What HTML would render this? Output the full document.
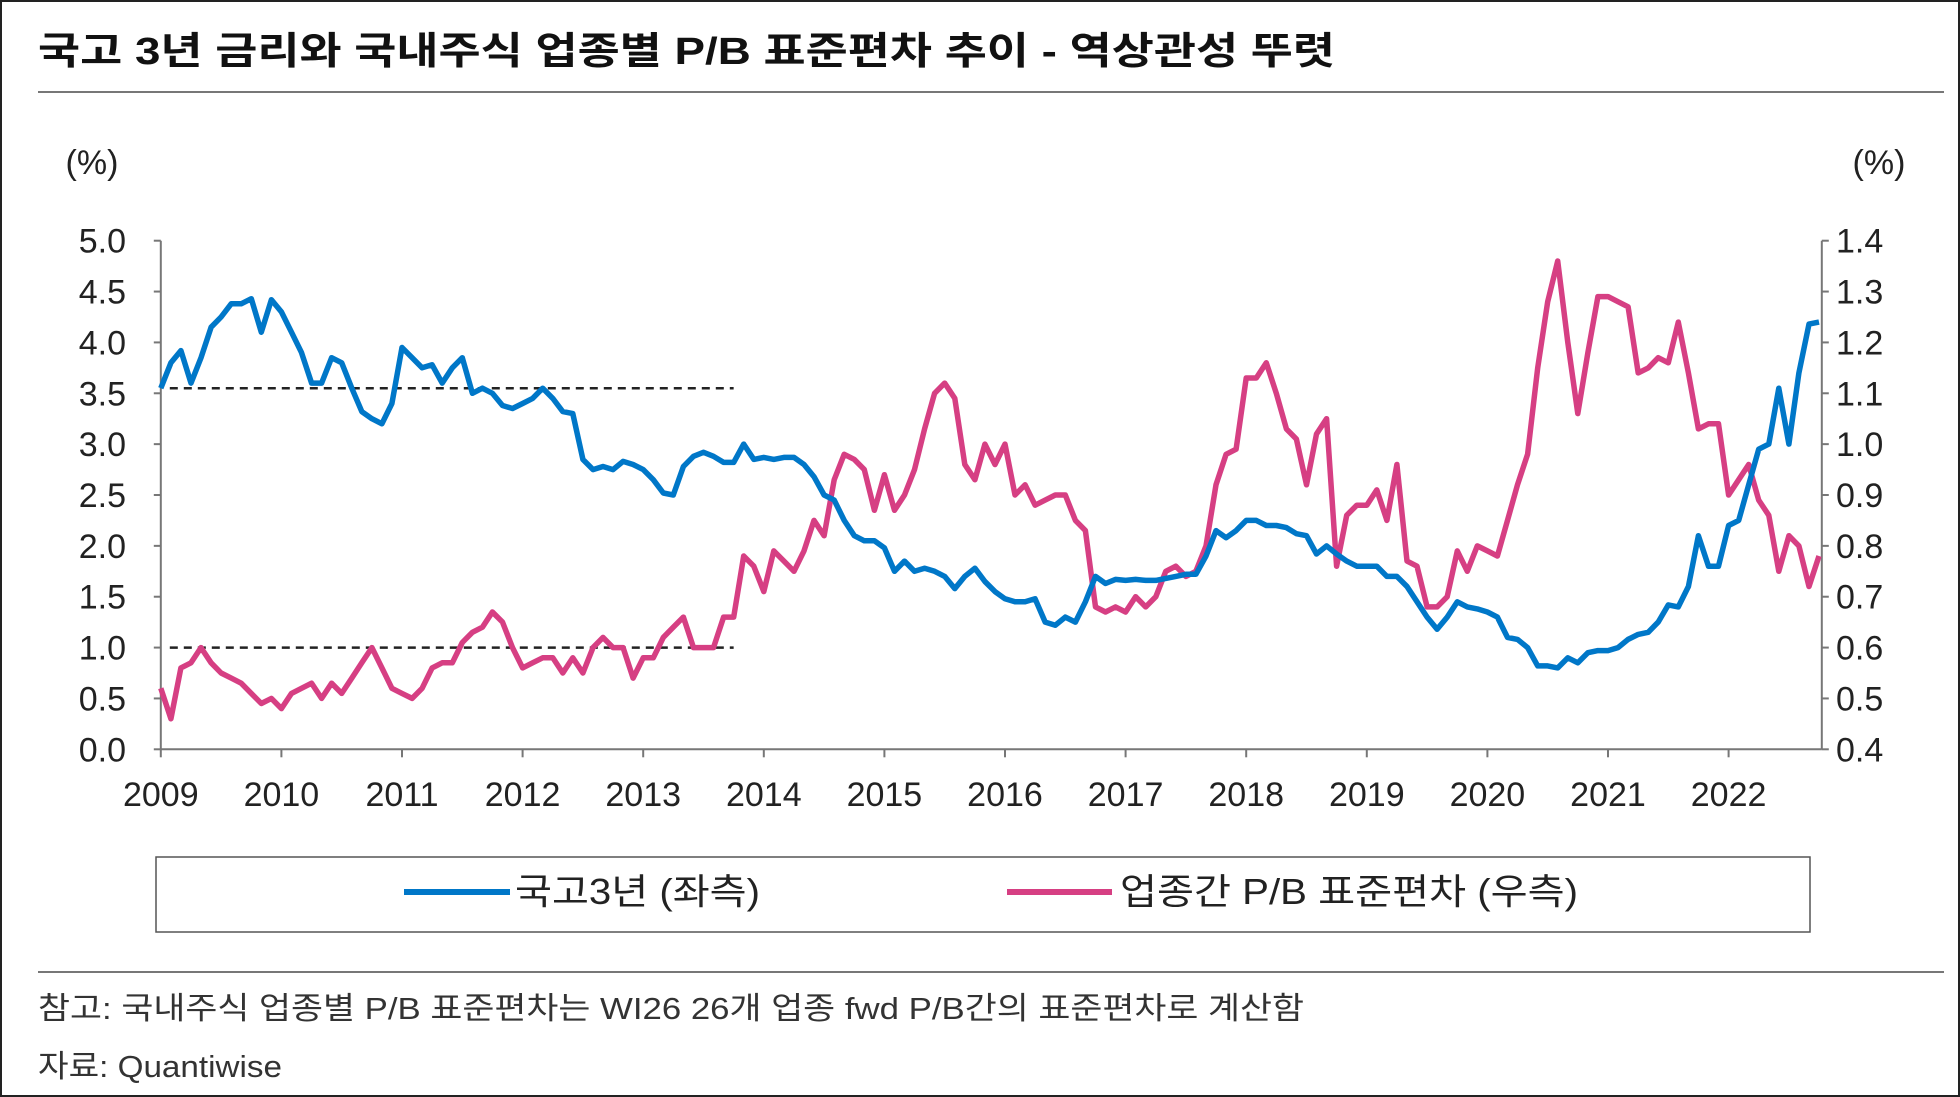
<!DOCTYPE html>
<html><head><meta charset="utf-8"><style>
html,body{margin:0;padding:0;background:#fff}
svg{display:block}
text{font-family:"Liberation Sans","Noto Sans CJK KR",sans-serif}
</style></head><body>
<svg id="c" width="1960" height="1097" viewBox="0 0 1960 1097" xmlns="http://www.w3.org/2000/svg">
<rect x="1" y="1" width="1958" height="1095" fill="#fff" stroke="#222" stroke-width="2"/>
<text x="38" y="64" font-size="38" font-weight="bold" fill="#111" textLength="1297" lengthAdjust="spacingAndGlyphs">국고 3년 금리와 국내주식 업종별 P/B 표준편차 추이 - 역상관성 뚜렷</text>
<line x1="38" y1="92" x2="1944" y2="92" stroke="#777" stroke-width="2"/>
<text x="92" y="174" font-size="34" text-anchor="middle" fill="#222">(%)</text>
<text x="1879" y="174" font-size="34" text-anchor="middle" fill="#222">(%)</text>
<g id="axes"></g>
<g id="marks"></g>
<rect x="156" y="857" width="1654" height="75" fill="#fff" stroke="#555" stroke-width="1.5"/>
<g>
<line x1="404" y1="892" x2="510" y2="892" stroke="#0077c8" stroke-width="6"/>
<text x="515" y="904" font-size="36" fill="#222" textLength="245" lengthAdjust="spacingAndGlyphs">국고3년 (좌측)</text></g>
<g>
<line x1="1007" y1="892" x2="1112" y2="892" stroke="#d63f83" stroke-width="6"/>
<text x="1120" y="904" font-size="36" fill="#222" textLength="458" lengthAdjust="spacingAndGlyphs">업종간 P/B 표준편차 (우측)</text></g>
<line x1="38" y1="972" x2="1944" y2="972" stroke="#777" stroke-width="2"/>
<text x="38" y="1019" font-size="31" fill="#333" textLength="1266" lengthAdjust="spacingAndGlyphs">참고: 국내주식 업종별 P/B 표준편차는 WI26 26개 업종 fwd P/B간의 표준편차로 계산함</text>
<text x="38" y="1077" font-size="31" fill="#333" textLength="244" lengthAdjust="spacingAndGlyphs">자료: Quantiwise</text>
</svg>
<script>
const years=["2009","2010","2011","2012","2013","2014","2015","2016","2017","2018","2019","2020","2021","2022"];
const leftTicks=["0.0","0.5","1.0","1.5","2.0","2.5","3.0","3.5","4.0","4.5","5.0"];
const rightTicks=["0.4","0.5","0.6","0.7","0.8","0.9","1.0","1.1","1.2","1.3","1.4"];
const bond=[3.55,3.8,3.92,3.6,3.85,4.15,4.25,4.38,4.38,4.43,4.1,4.42,
4.3,4.1,3.9,3.6,3.6,3.85,3.8,3.55,3.32,3.25,3.2,3.4,
3.95,3.85,3.75,3.78,3.6,3.75,3.85,3.5,3.55,3.5,3.38,3.35,
3.4,3.45,3.55,3.45,3.32,3.3,2.85,2.75,2.78,2.75,2.83,2.8,
2.75,2.65,2.52,2.5,2.78,2.88,2.92,2.88,2.82,2.82,3.0,2.85,
2.87,2.85,2.87,2.87,2.8,2.68,2.5,2.45,2.25,2.1,2.05,2.05,
1.98,1.75,1.85,1.75,1.78,1.75,1.7,1.58,1.7,1.78,1.65,1.55,
1.48,1.45,1.45,1.48,1.25,1.22,1.3,1.25,1.45,1.7,1.63,1.67,
1.66,1.67,1.66,1.66,1.68,1.7,1.72,1.72,1.9,2.15,2.08,2.15,
2.25,2.25,2.2,2.2,2.18,2.12,2.1,1.92,2.0,1.92,1.85,1.8,
1.8,1.8,1.7,1.7,1.6,1.45,1.3,1.18,1.3,1.45,1.4,1.38,
1.35,1.3,1.1,1.08,1.0,0.82,0.82,0.8,0.9,0.85,0.95,0.97,
0.97,1.0,1.08,1.13,1.15,1.25,1.42,1.4,1.6,2.1,1.8,1.8,
2.2,2.25,2.6,2.95,3.0,3.55,3.0,3.7,4.18,4.2];
const pbStd=[0.52,0.46,0.56,0.57,0.6,0.57,0.55,0.54,0.53,0.51,0.49,0.5,
0.48,0.51,0.52,0.53,0.5,0.53,0.51,0.54,0.57,0.6,0.56,0.52,
0.51,0.5,0.52,0.56,0.57,0.57,0.61,0.63,0.64,0.67,0.65,0.6,
0.56,0.57,0.58,0.58,0.55,0.58,0.55,0.6,0.62,0.6,0.6,0.54,
0.58,0.58,0.62,0.64,0.66,0.6,0.6,0.6,0.66,0.66,0.78,0.76,
0.71,0.79,0.77,0.75,0.79,0.85,0.82,0.93,0.98,0.97,0.95,0.87,
0.94,0.87,0.9,0.95,1.03,1.1,1.12,1.09,0.96,0.93,1.0,0.96,
1.0,0.9,0.92,0.88,0.89,0.9,0.9,0.85,0.83,0.68,0.67,0.68,
0.67,0.7,0.68,0.7,0.75,0.76,0.74,0.75,0.8,0.92,0.98,0.99,
1.13,1.13,1.16,1.1,1.03,1.01,0.92,1.02,1.05,0.76,0.86,0.88,
0.88,0.91,0.85,0.96,0.77,0.76,0.68,0.68,0.7,0.79,0.75,0.8,
0.79,0.78,0.85,0.92,0.98,1.15,1.28,1.36,1.2,1.06,1.18,1.29,
1.29,1.28,1.27,1.14,1.15,1.17,1.16,1.24,1.14,1.03,1.04,1.04,
0.9,0.93,0.96,0.89,0.86,0.75,0.82,0.8,0.72,0.78];
const bondRef=[3.55];
const pbRef=[0.6];
const refRange=[0,57];

const NS="http://www.w3.org/2000/svg";
const X0=160.8,YR=120.6,YT=240.7,YB=749.3,XR=1821.8;
const xm=i=>X0+i*YR/12;
const yl=v=>YB-(v/5)*(YB-YT);
const yr=v=>YB-((v-0.4)/1.0)*(YB-YT);
function mk(tag,attrs,parent){const e=document.createElementNS(NS,tag);for(const k in attrs)e.setAttribute(k,attrs[k]);parent.appendChild(e);return e;}
const axes=document.getElementById('axes'),marks=document.getElementById('marks');
let e=mk('line',{x1:X0,y1:YT,x2:X0,y2:YB,stroke:'#777','stroke-width':2},axes);


e=mk('line',{x1:XR,y1:YT,x2:XR,y2:YB,stroke:'#777','stroke-width':2},axes);


e=mk('line',{x1:X0,y1:YB,x2:XR,y2:YB,stroke:'#777','stroke-width':2},axes);


leftTicks.forEach(t=>{const y=yl(parseFloat(t));
mk('line',{x1:X0-7,y1:y,x2:X0,y2:y,stroke:'#777','stroke-width':2},axes);
const tx=mk('text',{x:126,y:y+12,'font-size':34,'text-anchor':'end',fill:'#222'},axes);tx.textContent=t;

});
rightTicks.forEach(t=>{const y=yr(parseFloat(t));
mk('line',{x1:XR,y1:y,x2:XR+7,y2:y,stroke:'#777','stroke-width':2},axes);
const tx=mk('text',{x:1836,y:y+12,'font-size':34,fill:'#222'},axes);tx.textContent=t;

});
years.forEach((t,i)=>{const x=xm(i*12);
mk('line',{x1:x,y1:YB,x2:x,y2:YB+8,stroke:'#777','stroke-width':2},axes);
const tx=mk('text',{x:x,y:806,'font-size':34,'text-anchor':'middle',fill:'#222'},axes);tx.textContent=t;

});
e=mk('line',{x1:xm(refRange[0])+9,y1:yl(bondRef[0]),x2:xm(refRange[1]),y2:yl(bondRef[0]),stroke:'#222','stroke-width':2.5,'stroke-dasharray':'8 6'},marks);


e=mk('line',{x1:xm(refRange[0])+9,y1:yr(pbRef[0]),x2:xm(refRange[1]),y2:yr(pbRef[0]),stroke:'#222','stroke-width':2.5,'stroke-dasharray':'8 6'},marks);


e=mk('polyline',{points:pbStd.map((v,i)=>xm(i).toFixed(1)+','+yr(v).toFixed(1)).join(' '),fill:'none',stroke:'#d63f83','stroke-width':5.5,'stroke-linejoin':'round'},marks);


e=mk('polyline',{points:bond.map((v,i)=>xm(i).toFixed(1)+','+yl(v).toFixed(1)).join(' '),fill:'none',stroke:'#0077c8','stroke-width':5.5,'stroke-linejoin':'round'},marks);


</script>
</body></html>
